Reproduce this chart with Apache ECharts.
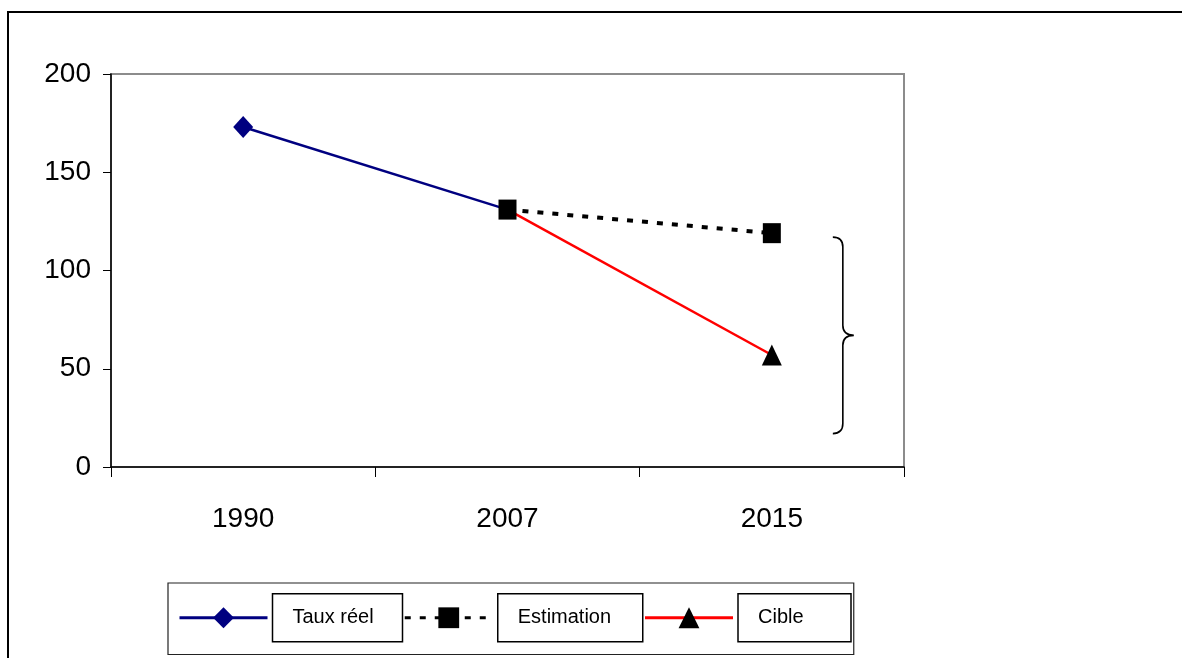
<!DOCTYPE html>
<html>
<head>
<meta charset="utf-8">
<script src="https://cdn.jsdelivr.net/npm/echarts@6/dist/echarts.min.js"></script>
<style>
  html, body { margin: 0; padding: 0; background: #fff; }
  #chart { width: 1182px; height: 658px; }
</style>
</head>
<body>
<div id="chart"></div>
<script>
// Years on the horizontal axis
const years = ['1990', '2007', '2015'];
// Observed rate, projected estimate and target (2007 shared as the common start)
const tauxReel = [173, 131, null];
const estimation = [null, 131, 119];
const cible = [null, 131, 57];
// Span of the gap between estimate and target marked with a brace
const braceRange = [2, 117, 17];
const yTicks = { min: 0, max: 200, interval: 50 };

const FONT = '"Liberation Sans", Arial, sans-serif';

function seriesData(values, hideAt) {
  return values.map((v, i) => {
    if (v === null) return '-';
    if (i === hideAt) return { value: v, symbol: 'none' };
    return v;
  });
}

function braceItem(params, api) {
  const top = api.coord([api.value(0), api.value(1)]);
  const bot = api.coord([api.value(0), api.value(2)]);
  const x0 = top[0] + 61;
  const x1 = x0 + 10;
  const xt = x1 + 11;
  const yT = top[1], yB = bot[1], yM = (yT + yB) / 2;
  const r = 10;
  const d = [
    'M', x0, yT,
    'Q', x1, yT, x1, yT + r,
    'L', x1, yM - r,
    'Q', x1, yM, xt, yM,
    'Q', x1, yM, x1, yM + r,
    'L', x1, yB - r,
    'Q', x1, yB, x0, yB
  ].join(' ');
  return {
    type: 'path',
    shape: { pathData: d },
    style: { stroke: '#000', fill: 'none', lineWidth: 1.6 }
  };
}

const chart = echarts.init(document.getElementById('chart'), null, { renderer: 'canvas' });

const boxText = (w) => ({
  fontFamily: FONT, fontSize: 20, color: '#000',
  width: w, height: 48, lineHeight: 48,
  borderColor: '#000', borderWidth: 1.5,
  padding: [0, 0, 0, 20], align: 'left'
});

chart.setOption({
  animation: false,
  backgroundColor: '#fff',
  graphic: [{
    type: 'rect', silent: true, z: 0,
    shape: { x: 8, y: 12, width: 1200, height: 700 },
    style: { fill: 'none', stroke: '#000', lineWidth: 2 }
  }],
  grid: {
    left: 111, right: 278, top: 74, bottom: 191,
    show: true, borderColor: '#8c8c8c', borderWidth: 2, backgroundColor: 'transparent'
  },
  legend: {
    left: 168, top: 583,
    padding: [10, 2, 12, 10],
    borderColor: '#222', borderWidth: 1.2,
    itemGap: 0, itemWidth: 88, itemHeight: 26,
    lineStyle: { width: 3 },
    selectedMode: false,
    data: [
      { name: 'Taux réel', textStyle: boxText(110) },
      { name: 'Estimation', textStyle: boxText(125) },
      { name: 'Cible', textStyle: boxText(93) }
    ]
  },
  xAxis: {
    type: 'category', data: years, boundaryGap: true,
    axisLine: { lineStyle: { color: '#000', width: 1.5 } },
    axisTick: { show: true, length: 10, lineStyle: { color: '#000', width: 1 } },
    axisLabel: { fontFamily: FONT, fontSize: 28, color: '#000', margin: 38 },
    splitLine: { show: false }
  },
  yAxis: {
    type: 'value', min: yTicks.min, max: yTicks.max, interval: yTicks.interval,
    axisLine: { show: true, lineStyle: { color: '#000', width: 1.5 } },
    axisTick: { show: true, length: 8, lineStyle: { color: '#000', width: 1 } },
    axisLabel: { fontFamily: FONT, fontSize: 28, color: '#000', margin: 20 },
    splitLine: { show: false }
  },
  series: [
    {
      name: 'Taux réel', type: 'line', z: 2,
      data: seriesData(tauxReel, 1),
      symbol: 'diamond', symbolSize: [20, 22],
      lineStyle: { color: '#000080', width: 2.5 },
      itemStyle: { color: '#000080' }
    },
    {
      name: 'Estimation', type: 'line', z: 4,
      data: seriesData(estimation, -1),
      symbol: 'rect', symbolSize: [18, 20],
      lineStyle: { color: '#000', width: 4, type: [6, 9] },
      itemStyle: { color: '#000' }
    },
    {
      name: 'Cible', type: 'line', z: 3,
      data: seriesData(cible, 1),
      symbol: 'triangle', symbolSize: [20, 21],
      lineStyle: { color: '#ff0000', width: 2.5 },
      itemStyle: { color: '#000' }
    },
    {
      name: 'brace', type: 'custom', clip: false, silent: true,
      renderItem: braceItem,
      encode: { x: 0, y: 1 },
      data: [braceRange]
    }
  ]
});
</script>
</body>
</html>
